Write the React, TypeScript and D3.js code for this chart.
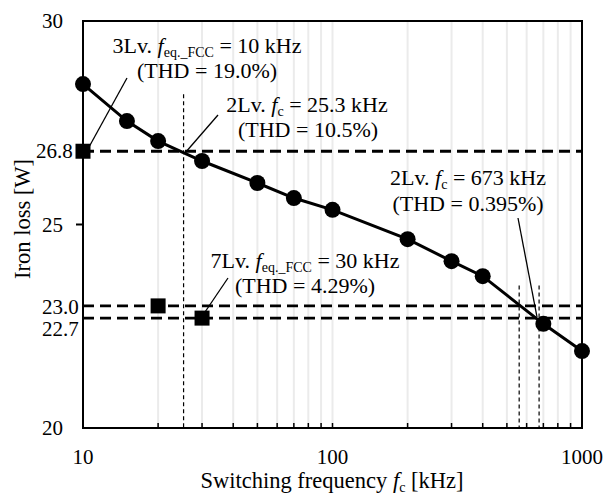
import React from "react";
import * as d3 from "d3";

const freqs = [10, 15, 20, 30, 50, 70, 100, 200, 300, 400, 700, 1000];
const loss2Lv = [28.45, 27.54, 27.05, 26.56, 26.02, 25.65, 25.36, 24.64, 24.1, 23.73, 22.56, 21.89];
const multiFreqs = [10, 20, 30];
const multiLoss = [26.8, 23.0, 22.7];
const refLevels = [26.8, 23.0, 22.7];
const vDotted = [
  { f: 25.3, top: 28.2 },
  { f: 560, top: 23.5 },
  { f: 673, top: 23.5 },
];
const xTicks = [10, 100, 1000];
const yTicks = [20, 25, 30];

const W = 616;
const H = 495;
const L = 83, R = 582, T = 21, B = 428;
const FONT = "Liberation Serif";
const TS = { fontFamily: FONT };

export default function App() {
  const x = d3.scaleLog().domain([10, 1000]).range([L, R]);
  const y = d3.scaleLinear().domain([20, 30]).range([B, T]);
  const line = d3.line<number>().x((_, i) => x(freqs[i])).y((d) => y(d));
  const grid: number[] = [];
  for (const dec of [10, 100]) for (let k = 1; k <= 9; k++) if (!(dec === 10 && k === 1)) grid.push(dec * k);
  const fs = 21;
  const fa = 22;
  const ft = 22.5;
  const sub = { fontSize: 14 };
  return (
    <svg width={W} height={H} style={{ position: "absolute", left: 0, top: 0, background: "#fff" }}>
      {grid.map((g) => (
        <line key={g} x1={x(g)} x2={x(g)} y1={T} y2={B} stroke="#ebebeb" strokeWidth={2} />
      ))}
      {grid.map((g) => (
        <line key={"t" + g} x1={x(g)} x2={x(g)} y1={B} y2={B - 5} stroke="#000" strokeWidth={1.5} />
      ))}
      {refLevels.map((v) => (
        <line key={v} x1={L} x2={R} y1={y(v)} y2={y(v)} stroke="#000" strokeWidth={2.8} strokeDasharray="11 6" />
      ))}
      {vDotted.map((d) => (
        <line key={d.f} x1={x(d.f)} x2={x(d.f)} y1={y(d.top)} y2={B} stroke="#000" strokeWidth={1.2} strokeDasharray="4 3" />
      ))}
      <rect x={L} y={T} width={R - L} height={B - T} fill="none" stroke="#000" strokeWidth={2} />
      <line x1={L - 7} x2={L} y1={y(25)} y2={y(25)} stroke="#000" strokeWidth={2} />
      <path d={line(loss2Lv) || ""} fill="none" stroke="#000" strokeWidth={3} />
      {loss2Lv.map((v, i) => (
        <circle key={i} cx={x(freqs[i])} cy={y(v)} r={8} fill="#000" />
      ))}
      {multiLoss.map((v, i) => (
        <rect key={i} x={x(multiFreqs[i]) - 7.5} y={y(v) - 7.5} width={15} height={15} fill="#000" />
      ))}
      <g stroke="#000" strokeWidth={1.3}>
        <line x1={127} y1={78} x2={89} y2={147} />
        <line x1={218} y1={115} x2={185} y2={153} />
        <line x1={518} y1={218} x2={537} y2={317} />
        <line x1={228} y1={278} x2={205} y2={312} />
      </g>
      <g fontSize={fs} fill="#000">
        {yTicks.map((t) => (
          <text key={t} style={TS} x={63} y={y(t) + 7} textAnchor="end">{t}</text>
        ))}
        <text style={TS} x={36} y={158}>26.8</text>
        <text style={TS} x={42} y={314}>23.0</text>
        <text style={TS} x={42} y={336}>22.7</text>
        {xTicks.map((t) => (
          <text key={t} style={TS} x={x(t)} y={464} textAnchor="middle">{t}</text>
        ))}
        <text style={TS} fontSize={ft} x={332} y={488} textAnchor="middle">
          Switching frequency <tspan fontStyle="italic">f</tspan><tspan {...sub} dy={4}>c</tspan><tspan dy={-4}> [kHz]</tspan>
        </text>
        <text style={TS} fontSize={ft} transform={`translate(30,219) rotate(-90)`} textAnchor="middle">Iron loss [W]</text>
      </g>
      <g fontSize={fa} fill="#000" textAnchor="middle">
        <text style={TS} x={207} y={53}>
          3Lv. <tspan fontStyle="italic">f</tspan><tspan {...sub} dy={4}>eq._FCC</tspan><tspan dy={-4}> = 10 kHz</tspan>
        </text>
        <text style={TS} x={207} y={78}>(THD = 19.0%)</text>
        <text style={TS} x={307} y={112}>
          2Lv. <tspan fontStyle="italic">f</tspan><tspan {...sub} dy={4}>c</tspan><tspan dy={-4}> = 25.3 kHz</tspan>
        </text>
        <text style={TS} x={308} y={137}>(THD = 10.5%)</text>
        <text style={TS} x={468} y={185}>
          2Lv. <tspan fontStyle="italic">f</tspan><tspan {...sub} dy={4}>c</tspan><tspan dy={-4}> = 673 kHz</tspan>
        </text>
        <text style={TS} x={468} y={211}>(THD = 0.395%)</text>
        <text style={TS} x={305} y={268}>
          7Lv. <tspan fontStyle="italic">f</tspan><tspan {...sub} dy={4}>eq._FCC</tspan><tspan dy={-4}> = 30 kHz</tspan>
        </text>
        <text style={TS} x={305} y={293}>(THD = 4.29%)</text>
      </g>
    </svg>
  );
}
